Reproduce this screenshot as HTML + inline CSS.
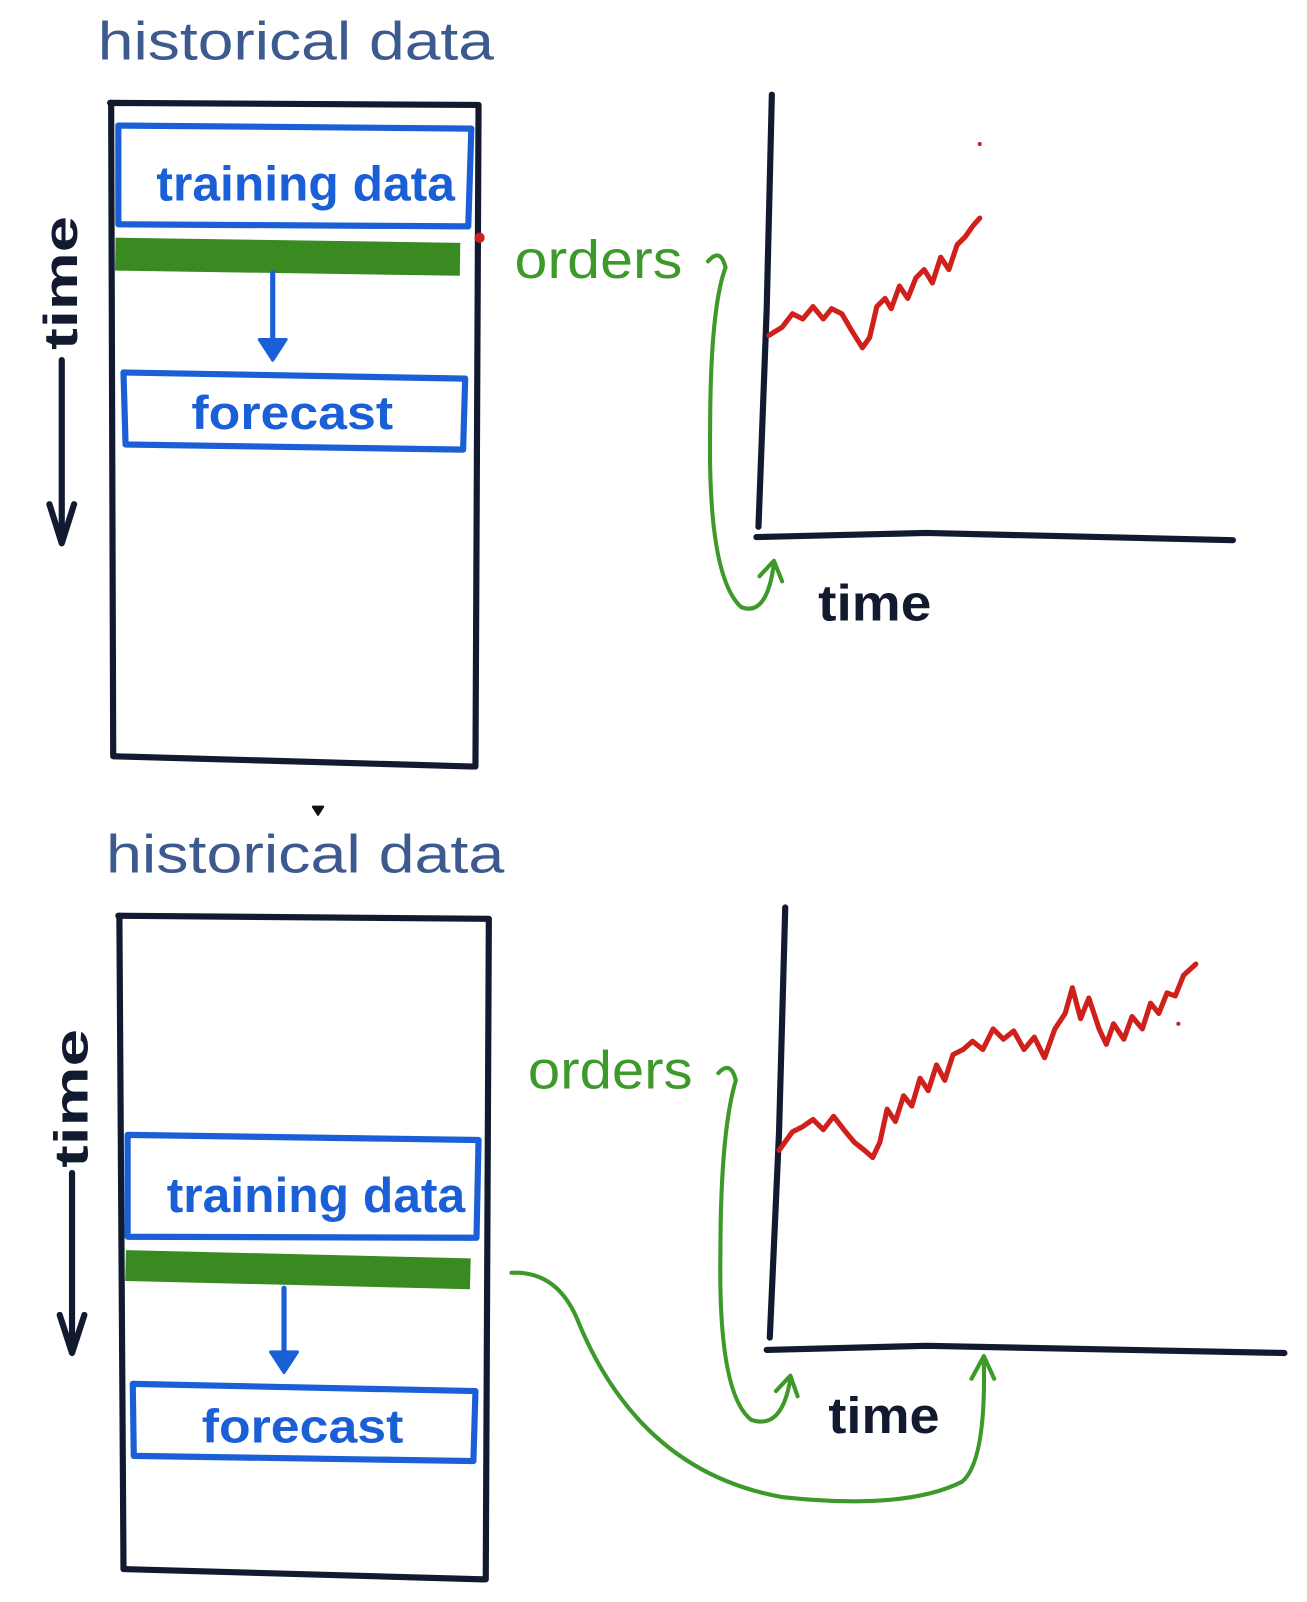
<!DOCTYPE html>
<html><head><meta charset="utf-8"><style>
html,body{margin:0;padding:0;background:#fff;}
svg{display:block;}
text{font-family:"Liberation Sans",sans-serif;font-weight:bold;}
text.n{font-weight:normal;}
</style></head><body>
<svg width="1307" height="1602" viewBox="0 0 1270 1557" preserveAspectRatio="none" xmlns="http://www.w3.org/2000/svg">
<g fill="none" stroke-linecap="round" stroke-linejoin="round">
<!-- TOP -->
<text class="n" x="95" y="58" font-size="52" fill="#3d5a8f" textLength="385" lengthAdjust="spacingAndGlyphs">historical data</text>
<path d="M107 100 L465 102 L462 745 M108 100 L110 735 L460 745" stroke="#111a2e" stroke-width="6"/>
<path d="M115 122 L458 125 L455 220 L115 218 Z" stroke="#1a5fd6" stroke-width="6"/>
<text x="152" y="195" font-size="48" fill="#1a5fd6" textLength="290" lengthAdjust="spacingAndGlyphs">training data</text>
<path d="M112 247 L447 252" stroke="#3a8a22" stroke-width="32" stroke-linecap="butt"/>
<path d="M265 265 L265 345" stroke="#1a5fd6" stroke-width="5"/>
<path d="M252 330 L265 350 L278 330 Z" fill="#1a5fd6" stroke="#1a5fd6" stroke-width="3"/>
<path d="M120 362 L452 368 L450 437 L122 432 Z" stroke="#1a5fd6" stroke-width="6"/>
<text x="186" y="417" font-size="46" fill="#1a5fd6" textLength="196" lengthAdjust="spacingAndGlyphs">forecast</text>
<circle cx="466" cy="231" r="5" fill="#d0201b" stroke="none"/>
<text transform="translate(75,340) rotate(-90)" font-size="46" fill="#111a2e" textLength="130" lengthAdjust="spacingAndGlyphs">time</text>
<path d="M60 350 L60 525" stroke="#111a2e" stroke-width="6"/>
<path d="M48 490 L60 528 L72 490" stroke="#111a2e" stroke-width="6"/>
<text class="n" x="500" y="270" font-size="52" fill="#3d9a2a" textLength="163" lengthAdjust="spacingAndGlyphs">orders</text>
<path d="M688 254 Q700 240 705 260 Q690 300 690 420 Q688 560 720 590 Q745 600 752 548" stroke="#3d9a2a" stroke-width="4"/>
<path d="M738 560 L752 545 L760 565" stroke="#3d9a2a" stroke-width="4"/>
<path d="M750 92 L745 300 L737 512" stroke="#111a2e" stroke-width="6"/>
<path d="M735 522 L900 518 L1198 525" stroke="#111a2e" stroke-width="6"/>
<text x="795" y="603" font-size="50" fill="#111a2e" textLength="110" lengthAdjust="spacingAndGlyphs">time</text>
<path d="M747 326 L760 318 L770 305 L780 310 L790 298 L800 310 L808 300 L818 305 L828 322 L838 338 L845 328 L852 298 L860 290 L866 300 L874 278 L882 290 L890 270 L898 262 L906 275 L914 250 L922 262 L930 238 L938 230 L945 220 L952 212" stroke="#d0201b" stroke-width="5"/>
<circle cx="952" cy="140" r="2" fill="#d0201b" stroke="none"/>
<!-- BOTTOM -->
<text class="n" x="103" y="848" font-size="52" fill="#3d5a8f" textLength="387" lengthAdjust="spacingAndGlyphs">historical data</text>
<path d="M115 890 L475 893 L472 1535 M116 890 L120 1525 L470 1535" stroke="#111a2e" stroke-width="6"/>
<path d="M124 1103 L465 1108 L463 1203 L124 1202 Z" stroke="#1a5fd6" stroke-width="6"/>
<text x="162" y="1178" font-size="48" fill="#1a5fd6" textLength="290" lengthAdjust="spacingAndGlyphs">training data</text>
<path d="M122 1230 L457 1238" stroke="#3a8a22" stroke-width="30" stroke-linecap="butt"/>
<path d="M276 1252 L276 1328" stroke="#1a5fd6" stroke-width="5"/>
<path d="M263 1314 L276 1334 L289 1314 Z" fill="#1a5fd6" stroke="#1a5fd6" stroke-width="3"/>
<path d="M129 1345 L462 1352 L460 1420 L130 1415 Z" stroke="#1a5fd6" stroke-width="6"/>
<text x="196" y="1402" font-size="46" fill="#1a5fd6" textLength="196" lengthAdjust="spacingAndGlyphs">forecast</text>
<text transform="translate(85,1135) rotate(-90)" font-size="46" fill="#111a2e" textLength="135" lengthAdjust="spacingAndGlyphs">time</text>
<path d="M70 1140 L70 1310" stroke="#111a2e" stroke-width="6"/>
<path d="M58 1278 L70 1315 L82 1278" stroke="#111a2e" stroke-width="6"/>
<text class="n" x="513" y="1058" font-size="52" fill="#3d9a2a" textLength="160" lengthAdjust="spacingAndGlyphs">orders</text>
<path d="M698 1043 Q710 1030 715 1050 Q700 1100 700 1220 Q698 1355 730 1380 Q760 1390 768 1340" stroke="#3d9a2a" stroke-width="4"/>
<path d="M754 1352 L768 1337 L775 1357" stroke="#3d9a2a" stroke-width="4"/>
<path d="M497 1237 Q540 1235 560 1280 Q620 1430 760 1455 Q880 1468 935 1440 Q958 1420 956 1325" stroke="#3d9a2a" stroke-width="4"/>
<path d="M944 1340 L956 1318 L966 1340" stroke="#3d9a2a" stroke-width="4"/>
<path d="M763 882 L757 1100 L748 1300" stroke="#111a2e" stroke-width="6"/>
<path d="M745 1312 L900 1308 L1248 1315" stroke="#111a2e" stroke-width="6"/>
<text x="805" y="1393" font-size="50" fill="#111a2e" textLength="108" lengthAdjust="spacingAndGlyphs">time</text>
<path d="M757 1118 L770 1100 L780 1095 L790 1088 L800 1098 L810 1085 L820 1098 L830 1110 L840 1118 L848 1125 L855 1110 L862 1078 L870 1090 L878 1065 L886 1075 L894 1048 L902 1060 L910 1035 L918 1050 L926 1025 L936 1020 L945 1012 L955 1020 L965 1000 L975 1010 L985 1002 L995 1020 L1005 1008 L1015 1028 L1025 1000 L1035 985 L1042 960 L1050 990 L1058 970 L1068 1000 L1075 1015 L1082 995 L1092 1010 L1100 988 L1110 1000 L1118 975 L1126 985 L1134 965 L1142 968 L1150 948 L1162 937" stroke="#d0201b" stroke-width="5"/>
<circle cx="1145" cy="995" r="2" fill="#d0201b" stroke="none"/>
<path d="M304 784 L309 792 L314 784 Z" fill="#111" stroke="#111" stroke-width="2"/>
</g>
</svg>
</body></html>
